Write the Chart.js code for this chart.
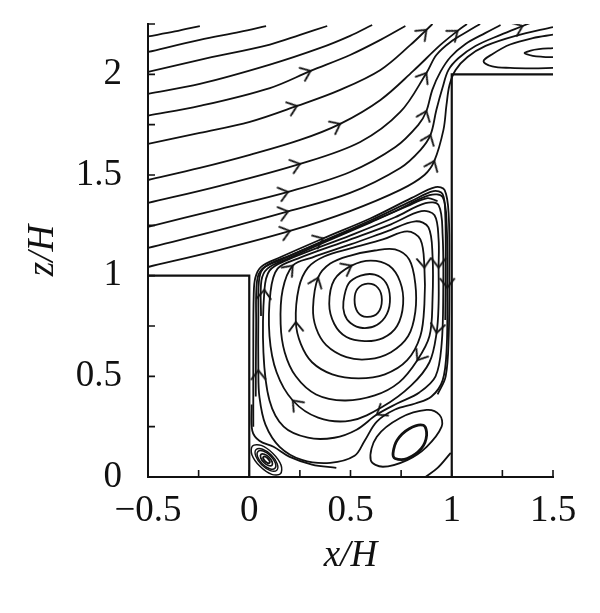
<!DOCTYPE html>
<html><head><meta charset="utf-8">
<script src="https://cdn.jsdelivr.net/npm/chart.js@4/dist/chart.umd.min.js"></script>
<style>html,body{margin:0;padding:0;background:#fff}</style>
</head><body>
<canvas id="c" width="600" height="613"></canvas>
<script>
// ---- axes ----
const xTicks = [-0.5,-0.25,0,0.25,0.5,0.75,1,1.25,1.5];
const xTickLabels = ['\u22120.5','','0','','0.5','','1','','1.5'];
const zTicks = [0,0.25,0.5,0.75,1,1.25,1.5,1.75,2,2.25];
const zTickLabels = ['0','','0.5','','1','','1.5','','2',''];

// ---- buildings ----
const buildingLeft = [[-0.5,1],[0,1],[0,0]];
const buildingRight = [[1,0],[1,2],[1.5,2]];

// ---- external streamlines (x/H, z/H) ----
const L1 = [[-0.5,2.188],[-0.367,2.213],[-0.244,2.24]];
const L2 = [[-0.5,2.111],[-0.244,2.171],[-0.046,2.211],[0.083,2.24]];
const L3 = [[-0.5,2.012],[-0.244,2.072],[0.102,2.148],[0.251,2.196],[0.385,2.24]];
const L4 = [[-0.5,1.903],[-0.244,1.952],[0.102,2.048],[0.351,2.131],[0.498,2.191],[0.607,2.245]];
const L5 = [[-0.5,1.795],[-0.244,1.843],[0.102,1.932],[0.303,2.017],[0.498,2.096],[0.648,2.171],[0.771,2.24]];
const L6 = [[-0.5,1.654],[-0.244,1.709],[0.003,1.764],[0.236,1.843],[0.449,1.923],[0.648,2.022],[0.796,2.146],[0.875,2.221],[0.905,2.25]];
const L7 = [[-0.5,1.475],[-0.244,1.535],[0.003,1.600],[0.251,1.674],[0.449,1.754],[0.648,1.873],[0.810,2.017],[0.944,2.146],[1.029,2.216],[1.075,2.25]];
const L8 = [[-0.5,1.361],[-0.145,1.446],[0.251,1.555],[0.548,1.664],[0.746,1.813],[0.875,2.007],[0.924,2.096],[0.994,2.161],[1.083,2.216],[1.14,2.25]];
const L9 = [[-0.5,1.242],[-0.145,1.331],[0.192,1.416],[0.498,1.515],[0.722,1.639],[0.835,1.749],[0.875,1.818],[0.904,1.923],[0.944,2.012],[0.994,2.086],[1.068,2.151],[1.167,2.206],[1.241,2.245]];
const L10 = [[-0.5,1.138],[-0.145,1.227],[0.192,1.319],[0.498,1.411],[0.746,1.535],[0.845,1.624],[0.895,1.699],[0.924,1.823],[0.954,1.932],[0.984,2.022],[1.034,2.081],[1.117,2.141],[1.241,2.196],[1.350,2.24],[1.40,2.26]];
const L11 = [[-0.5,1.043],[-0.145,1.128],[0.201,1.222],[0.498,1.321],[0.746,1.426],[0.865,1.500],[0.914,1.570],[0.959,1.724],[0.974,1.848],[0.989,1.947],[1.019,2.022],[1.078,2.086],[1.167,2.141],[1.315,2.191],[1.5,2.235]];

// ---- shear layer lines ----
const S1 = [[0.02,0.25],[0.02,0.60],[0.022,0.90],[0.03,0.99],[0.06,1.045],[0.15,1.09],[0.365,1.185],[0.60,1.285],[0.80,1.385],[0.92,1.44],[0.965,1.425],[0.985,1.30],[0.988,1.00],[0.985,0.70],[0.97,0.50],[0.93,0.41]];
const S2 = [[0.032,0.40],[0.034,0.75],[0.038,0.97],[0.065,1.035],[0.16,1.08],[0.36,1.17],[0.60,1.275],[0.80,1.37],[0.91,1.42],[0.955,1.405],[0.968,1.30],[0.97,1.05],[0.968,0.78]];
const S3 = [[0.058,0.80],[0.06,0.975],[0.09,1.035],[0.18,1.08],[0.37,1.165],[0.60,1.265],[0.78,1.345],[0.88,1.385],[0.93,1.37]];
const S4 = [[0.012,0.36],[0.015,0.23],[0.05,0.18],[0.12,0.15],[0.20,0.10],[0.31,0.062],[0.43,0.045]];

// ---- main cavity vortex (closed loops) ----
const loop1 = [[0.52,0.88],[0.535,0.935],[0.585,0.96],[0.635,0.94],[0.655,0.88],[0.635,0.815],[0.58,0.795],[0.535,0.82]];
const loop2 = [[0.465,0.87],[0.49,0.96],[0.55,1.0],[0.62,1.005],[0.675,0.965],[0.695,0.89],[0.68,0.81],[0.63,0.755],[0.56,0.74],[0.50,0.765],[0.47,0.81]];
const loop3 = [[0.395,0.86],[0.42,0.98],[0.505,1.05],[0.60,1.075],[0.69,1.05],[0.745,0.97],[0.76,0.86],[0.73,0.75],[0.66,0.69],[0.57,0.675],[0.48,0.695],[0.42,0.76]];
const loop4 = [[0.315,0.84],[0.34,0.99],[0.40,1.06],[0.50,1.10],[0.62,1.125],[0.72,1.13],[0.79,1.08],[0.82,0.96],[0.82,0.82],[0.785,0.70],[0.70,0.62],[0.59,0.585],[0.48,0.595],[0.38,0.655],[0.33,0.74]];
const loop5 = [[0.23,0.77],[0.245,0.94],[0.29,1.04],[0.37,1.095],[0.50,1.135],[0.66,1.18],[0.78,1.22],[0.845,1.18],[0.865,1.04],[0.865,0.86],[0.845,0.70],[0.78,0.58],[0.67,0.51],[0.54,0.49],[0.41,0.51],[0.31,0.57],[0.255,0.66]];
const loop6 = [[0.155,0.76],[0.165,0.93],[0.215,1.05],[0.31,1.09],[0.50,1.155],[0.68,1.22],[0.82,1.27],[0.885,1.24],[0.905,1.10],[0.905,0.88],[0.89,0.70],[0.83,0.58],[0.74,0.47],[0.62,0.405],[0.47,0.38],[0.33,0.41],[0.23,0.50],[0.175,0.62]];
const loop7 = [[0.10,0.70],[0.105,0.92],[0.14,1.035],[0.24,1.085],[0.50,1.18],[0.70,1.255],[0.85,1.32],[0.915,1.30],[0.935,1.18],[0.935,1.04],[0.935,0.86],[0.925,0.715],[0.89,0.57],[0.80,0.455],[0.66,0.35],[0.50,0.28],[0.34,0.295],[0.215,0.38],[0.135,0.52]];
const loop8 = [[0.07,0.62],[0.075,0.93],[0.10,1.025],[0.18,1.075],[0.50,1.20],[0.72,1.29],[0.87,1.36],[0.935,1.35],[0.955,1.20],[0.958,0.92],[0.95,0.66],[0.92,0.50],[0.84,0.42],[0.73,0.365],[0.63,0.31],[0.53,0.235],[0.42,0.195],[0.29,0.195],[0.17,0.25],[0.10,0.38]];
const loop9 = [[0.045,0.53],[0.045,0.82],[0.05,0.99],[0.08,1.045],[0.20,1.10],[0.50,1.225],[0.72,1.32],[0.89,1.40],[0.955,1.39],[0.975,1.25],[0.978,0.94],[0.975,0.64],[0.955,0.48],[0.90,0.40],[0.82,0.365],[0.72,0.335],[0.63,0.275],[0.57,0.18],[0.52,0.105],[0.40,0.07],[0.26,0.085],[0.15,0.15],[0.08,0.26],[0.05,0.40]];

// ---- secondary vortices ----
const bubbleOuter = [[0.60,0.084],[0.63,0.20],[0.745,0.293],[0.876,0.333],[0.94,0.308],[0.95,0.25],[0.876,0.15],[0.78,0.084],[0.66,0.051]];
const bubbleInner = [[0.71,0.117],[0.73,0.183],[0.79,0.24],[0.86,0.257],[0.876,0.208],[0.85,0.142],[0.78,0.092],[0.72,0.092]];
const mini1 = [[0.154,0.016],[0.157,0.059],[0.117,0.117],[0.059,0.157],[0.016,0.154],[0.013,0.111],[0.053,0.053],[0.111,0.013]];
const mini2 = [[0.136,0.034],[0.138,0.066],[0.109,0.109],[0.066,0.138],[0.034,0.136],[0.032,0.104],[0.061,0.061],[0.104,0.032]];
const mini3 = [[0.127,0.043],[0.129,0.069],[0.105,0.105],[0.069,0.129],[0.043,0.127],[0.041,0.101],[0.065,0.065],[0.101,0.041]];
const mini4 = [[0.112,0.058],[0.113,0.075],[0.098,0.098],[0.075,0.113],[0.058,0.112],[0.057,0.095],[0.072,0.072],[0.095,0.057]];
const mini5 = [[0.100,0.070],[0.101,0.079],[0.092,0.092],[0.079,0.101],[0.070,0.100],[0.069,0.091],[0.078,0.078],[0.091,0.069]];
const roofOuter = [[1.5,2.197],[1.40,2.18],[1.288,2.148],[1.20,2.10],[1.157,2.065],[1.20,2.04],[1.288,2.032],[1.40,2.03],[1.5,2.032]];
const roofInner = [[1.5,2.13],[1.43,2.125],[1.39,2.118],[1.36,2.105],[1.40,2.092],[1.45,2.087],[1.5,2.085]];
const cornerLine = [[0.87,0.0],[0.93,0.045],[0.995,0.12]];

// ---- arrow heads (positions on streamlines) ----
const arrowsAt = [[0.303,2.017],[0.236,1.843],[0.875,2.221],[0.449,1.754],[1.029,2.216],[0.251,1.555],[0.875,2.007],
  [0.192,1.416],[0.875,1.818],[0.192,1.319],[0.895,1.699],[1.350,2.24],[0.201,1.222],[0.914,1.570],
  [0.365,1.185],[0.215,1.05],[0.075,0.93],[0.505,1.05],[0.34,0.99],[0.23,0.77],[0.865,1.04],[0.935,1.04],
  [0.978,0.94],[0.925,0.715],[0.83,0.58],[0.215,0.38],[0.63,0.31],[0.045,0.53]];

const INK = '#111111';
const openLines = [L1,L2,L3,L4,L5,L6,L7,L8,L9,L10,L11,S1,S2,S3,S4,roofOuter,roofInner,cornerLine];
const closedLines = [loop1,loop2,loop3,loop4,loop5,loop6,loop7,loop8,loop9,bubbleOuter,bubbleInner,mini1,mini2,mini3,mini4,mini5];
const widthOf = new Map([[bubbleInner,2.8],[mini1,1.5],[mini2,1.4],[mini3,1.5],[mini4,1.7],[mini5,1.9]]);

const toXY = pts => pts.map(([x,y]) => ({x, y}));
function openDs(pts){
  return {data: toXY(pts), showLine:true, borderColor:INK, borderWidth: widthOf.get(pts)||1.8, pointRadius:0, tension:0.35, fill:false};
}
function loopDs(pts){
  const n = pts.length;
  const ext = [pts[n-1], ...pts, pts[0], pts[1]];
  const last = ext.length - 1;
  return {data: toXY(ext), showLine:true, borderColor:INK, borderWidth: widthOf.get(pts)||1.8, pointRadius:0, tension:0.35, fill:false,
    segment:{borderColor: c => (c.p0DataIndex === 0 || c.p1DataIndex === last) ? 'rgba(0,0,0,0)' : undefined}};
}
const lineObjs = [...openLines.map(p=>({pts:p,closed:false})), ...closedLines.map(p=>({pts:p,closed:true}))];
function snap([ax,az]){
  let best=null, bd=Infinity;
  for (const ln of lineObjs) ln.pts.forEach((p,i)=>{const d=(p[0]-ax)**2+(p[1]-az)**2; if(d<bd){bd=d;best={ln,i};}});
  const {ln,i} = best, n = ln.pts.length;
  const prev = ln.closed ? ln.pts[(i-1+n)%n] : ln.pts[Math.max(i-1,0)];
  const next = ln.closed ? ln.pts[(i+1)%n] : ln.pts[Math.min(i+1,n-1)];
  return {x: ln.pts[i][0], y: ln.pts[i][1], prev, next};
}
const arrowPts = arrowsAt.map(snap);

const arrowImg = document.createElement('canvas');
arrowImg.width = 24; arrowImg.height = 24;
(() => { const g = arrowImg.getContext('2d'); g.strokeStyle = INK; g.lineWidth = 1.8; g.lineCap='round';
  g.beginPath(); g.moveTo(3,5); g.lineTo(12,12); g.lineTo(3,19); g.stroke(); })();

const datasets = [
  {data: toXY(buildingLeft), showLine:true, borderColor:INK, borderWidth:2.2, pointRadius:0, tension:0},
  {data: toXY(buildingRight), showLine:true, borderColor:INK, borderWidth:2.2, pointRadius:0, tension:0},
  ...openLines.map(openDs),
  ...closedLines.map(loopDs),
  {data: arrowPts.map(a=>({x:a.x,y:a.y})), showLine:false, pointStyle: arrowImg, pointRadius: 8,
   rotation: c => { const a = arrowPts[c.dataIndex]; if(!a) return 0;
     const sx = c.chart.scales.x, sy = c.chart.scales.y;
     const dx = sx.getPixelForValue(a.next[0]) - sx.getPixelForValue(a.prev[0]);
     const dy = sy.getPixelForValue(a.next[1]) - sy.getPixelForValue(a.prev[1]);
     return Math.atan2(dy,dx)*180/Math.PI; }}
];

const SERIF = "'Liberation Serif','Times New Roman',serif";
const inwardTicks = {id:'inwardTicks', afterDatasetsDraw(chart){
  const {ctx, chartArea:a, scales:{x,y}} = chart;
  ctx.save(); ctx.strokeStyle = INK; ctx.lineWidth = 1.6; ctx.beginPath();
  xTicks.forEach(v=>{const p=x.getPixelForValue(v); ctx.moveTo(p,a.bottom); ctx.lineTo(p,a.bottom-7);});
  zTicks.forEach(v=>{const p=y.getPixelForValue(v); ctx.moveTo(a.left,p); ctx.lineTo(a.left+7,p);});
  ctx.stroke(); ctx.restore();
}};

new Chart(document.getElementById('c'), {
  type:'scatter',
  data:{datasets},
  options:{
    responsive:false, animation:false, events:[],
    layout:{padding:{top:24,right:47,bottom:0,left:0}},
    plugins:{legend:{display:false}, tooltip:{enabled:false}},
    scales:{
      x:{type:'linear', min:-0.5, max:1.5,
        afterBuildTicks: s => { s.ticks = xTicks.map(v=>({value:v})); },
        afterFit: s => { s.height = 136; },
        grid:{display:false, drawTicks:false},
        border:{display:true, color:INK, width:2},
        ticks:{autoSkip:false, maxRotation:0, padding:16, color:INK,
          font:{family:SERIF, size:37, lineHeight:1},
          callback:(v,i)=>xTickLabels[i]},
        title:{display:true, text:'x/H', color:INK, font:{family:SERIF, size:37, style:'italic', lineHeight:1}, padding:{top:0,bottom:38}}
      },
      y:{type:'linear', min:0, max:2.25,
        afterBuildTicks: s => { s.ticks = zTicks.map(v=>({value:v})); },
        afterFit: s => { s.width = 148; s.paddingTop = 0; s.paddingBottom = 0; },
        grid:{display:false, drawTicks:false},
        border:{display:true, color:INK, width:2},
        ticks:{autoSkip:false, padding:26, color:INK,
          font:{family:SERIF, size:37, lineHeight:0.2},
          callback:(v,i)=>zTickLabels[i]},
        title:{display:true, text:'z/H', color:INK, font:{family:SERIF, size:37, style:'italic', lineHeight:1}, padding:{top:25,bottom:0}}
      }
    }
  },
  plugins:[inwardTicks]
});
</script>
</body></html>
